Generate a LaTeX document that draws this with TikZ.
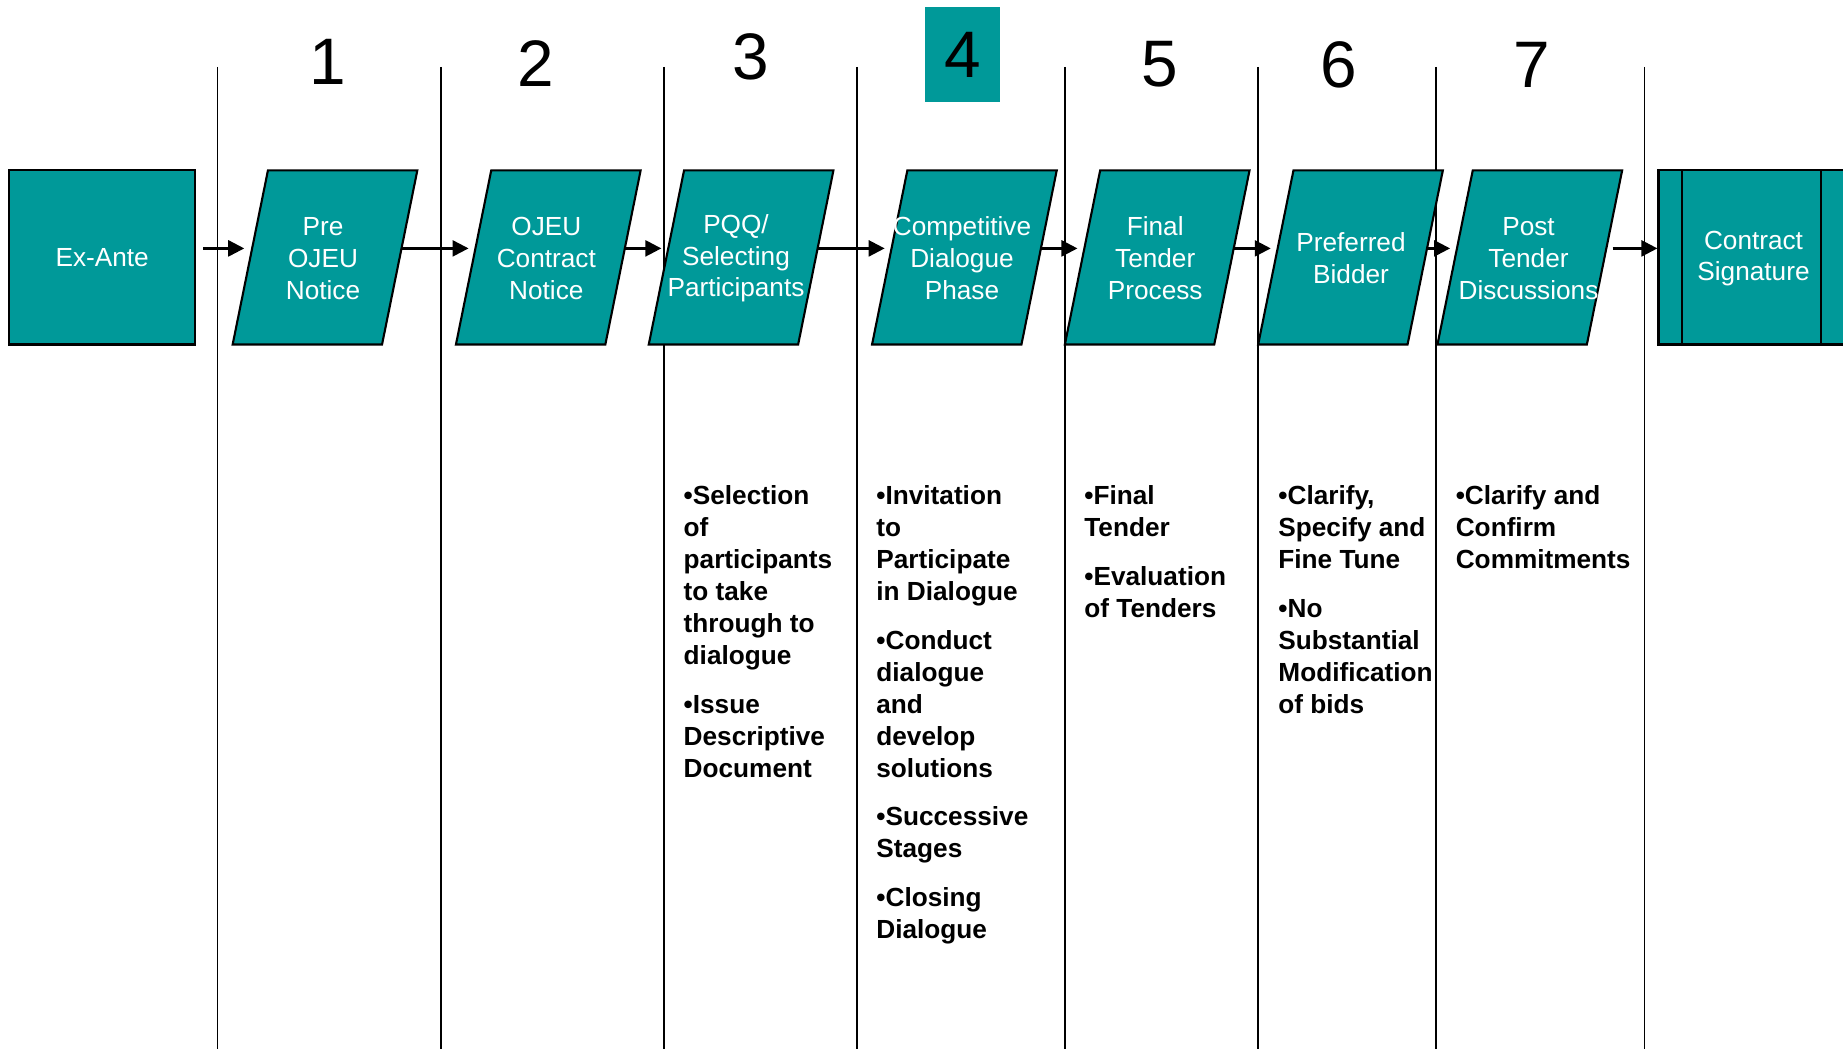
\documentclass[tikz,border=0pt]{standalone}
\usepackage{fontspec}
\setmainfont{Liberation Sans}
\usetikzlibrary{arrows.meta}
\definecolor{stageteal}{RGB}{0,153,153}
\tikzstyle{StageBox} = [draw, fill=stageteal, line width=0.6pt, xslant=0.2027, minimum width=1.493cm, minimum height=1.74cm, inner sep=0pt]
\tikzstyle{PlainBox} = [draw, fill=stageteal, line width=0.6pt, minimum height=1.74cm, inner sep=0pt]
\tikzstyle{StageText} = [text=white, align=center, font=\fontsize{7.45}{9.05}\selectfont]
\tikzstyle{StepNum} = [inner sep=0pt, font=\fontsize{18.7}{22}\selectfont]
\tikzstyle{TaskList} = [anchor=north west, inner sep=0pt, align=left, font=\fontsize{7.45}{9.1}\selectfont\bfseries]

\begin{document}
\begin{tikzpicture}[x=0.01cm, y=-0.01cm, flow/.style={-{Triangle[length=0.16cm, width=0.16cm]}, line width=0.7pt}]
  \useasboundingbox (0,0) rectangle (1843,1049);

  % column rules
  \foreach \x in {217.5, 440.8, 664, 857, 1065, 1257.7, 1436, 1644.4}
    \draw[line width=0.45pt] (\x,67) -- (\x,1060);

  % step numbers
  \node[StepNum] (num1) at (328,62.3) {1};
  \node[StepNum] (num2) at (536,63.5) {2};
  \node[StepNum] (num3) at (751,56.4) {3};
  \node[StepNum, fill=stageteal, minimum width=0.753cm, minimum height=0.953cm] (num4) at (962.7,54.7) {4};
  \node[StepNum] (num5) at (1160,64.6) {5};
  \node[StepNum] (num6) at (1339,64.6) {6};
  \node[StepNum] (num7) at (1531.6,64.6) {7};

  % stages
  \node[PlainBox, minimum width=1.856cm] (exante) at (102.2,257.4) {};
  \node[StageText] (exante-text) at (exante) {Ex-Ante};
  \node[StageBox] (pre) at (325,257.4) {};
  \node[StageText] (pre-text) at (323,258.4) {Pre\\OJEU\\Notice};
  \node[StageBox] (ojeu) at (548.3,257.4) {};
  \node[StageText] (ojeu-text) at (546.3,258.4) {OJEU\\Contract\\Notice};
  \node[StageBox] (pqq) at (741.1,257.4) {};
  \node[StageText] (pqq-text) at (736,258.4) {PQQ/\\Selecting\\Participants};
  \node[StageBox] (dialogue) at (964.4,257.4) {};
  \node[StageText] (dialogue-text) at (962,258.4) {Competitive\\Dialogue\\Phase};
  \node[StageBox] (final) at (1157.2,257.4) {};
  \node[StageText] (final-text) at (1155.2,258.4) {Final\\Tender\\Process};
  \node[StageBox] (preferred) at (1350.5,257.4) {};
  \node[StageText] (preferred-text) at (1351,258.4) {Preferred\\Bidder};
  \node[StageBox] (post) at (1529.8,257.4) {};
  \node[StageText] (post-text) at (1528.5,258.4) {Post\\Tender\\Discussions};
  \node[PlainBox, minimum width=2cm] (signature) at (1758.5,257.4) {};
  \node[StageText] (signature-text) at (1753.5,258.5) {Contract\\Signature};
  \draw[line width=0.6pt] ([xshift=0.245cm]signature.north west) -- ([xshift=0.245cm]signature.south west);
  \draw[line width=0.6pt] ([xshift=1.635cm]signature.north west) -- ([xshift=1.635cm]signature.south west);

  % arrows
  \draw[flow, shorten <=0.07cm, shorten >=0.05cm] ([yshift=0.09cm]exante.east) -- ([yshift=0.09cm]pre.west);
  \draw[flow, shorten >=0.04cm] ([yshift=0.09cm]pre.east) -- ([yshift=0.09cm]ojeu.west);
  \draw[flow, shorten >=0.04cm] ([yshift=0.09cm]ojeu.east) -- ([yshift=0.09cm]pqq.west);
  \draw[flow, shorten >=0.04cm] ([yshift=0.09cm]pqq.east) -- ([yshift=0.09cm]dialogue.west);
  \draw[flow, shorten >=0.04cm] ([yshift=0.09cm]dialogue.east) -- ([yshift=0.09cm]final.west);
  \draw[flow, shorten >=0.04cm] ([yshift=0.09cm]final.east) -- ([yshift=0.09cm]preferred.west);
  \draw[flow, shorten >=0.04cm] ([yshift=0.09cm]preferred.east) -- ([yshift=0.09cm]post.west);
  \draw[flow, shorten <=0.07cm] ([yshift=0.09cm]post.east) -- ([yshift=0.09cm]signature.west);

  % activities
  \node[TaskList] (tasks3) at (683,485) {•Selection\\of\\participants\\to take\\through to\\dialogue\\[4.7pt]•Issue\\Descriptive\\Document};
  \node[TaskList] (tasks4) at (875.7,485) {•Invitation\\to\\Participate\\in Dialogue\\[4.7pt]•Conduct\\dialogue\\and\\develop\\solutions\\[4.7pt]•Successive\\Stages\\[4.7pt]•Closing\\Dialogue};
  \node[TaskList] (tasks5) at (1083.7,485) {•Final\\Tender\\[4.7pt]•Evaluation\\of Tenders};
  \node[TaskList] (tasks6) at (1277.7,485) {•Clarify,\\Specify and\\Fine Tune\\[4.7pt]•No\\Substantial\\Modification\\of bids};
  \node[TaskList] (tasks7) at (1455.1,485) {•Clarify and\\Confirm\\Commitments};
\end{tikzpicture}
\end{document}
